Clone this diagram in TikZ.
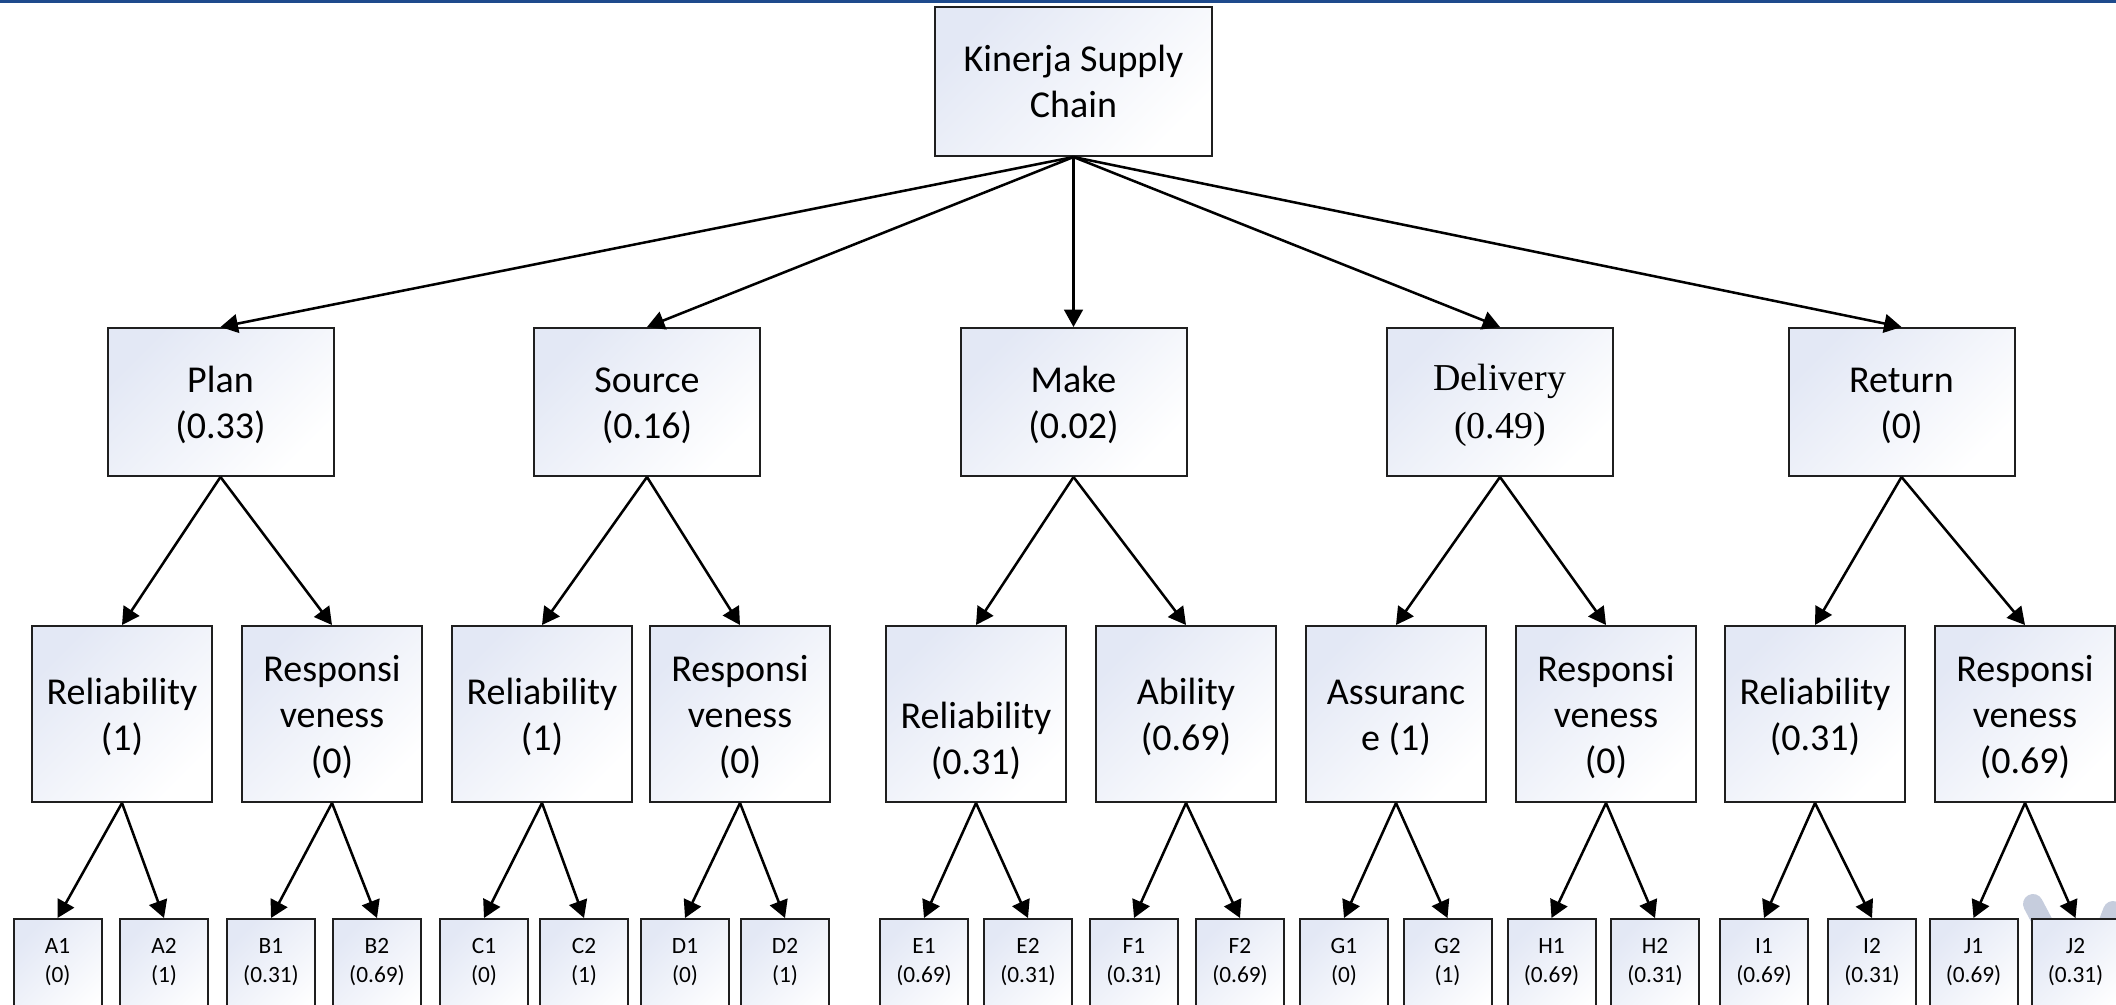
\documentclass[tikz,border=0pt]{standalone}
\usepackage{fontspec}
\setmainfont{Carlito}
\newfontfamily\serifdel{Liberation Serif}
\usetikzlibrary{arrows.meta}
\definecolor{barblue}{RGB}{30,74,140}
\definecolor{boxtint}{RGB}{227,232,245}
\definecolor{wmark}{RGB}{198,205,221}
\newcommand\tup{\rule{0pt}{24.5pt}}
\begin{document}
\begin{tikzpicture}[x=0.75pt,y=-0.75pt,
  box/.style={draw=black!88, line width=1.5pt, top color=boxtint, bottom color=white, shading angle=45, align=center, inner sep=0pt},
  big/.style={box, font=\fontsize{28.5pt}{34.5pt}\selectfont},
  rootbox/.style={big, minimum width=207.75pt, minimum height=111.75pt},
  lvtwo/.style={big, minimum width=169.5pt, minimum height=111pt},
  lvthree/.style={big, minimum width=135pt, minimum height=132pt},
  leafbox/.style={box, minimum width=66pt, minimum height=82.5pt, anchor=north},
  leaftext/.style={align=center, anchor=north, inner sep=0pt, font=\fontsize{17.5pt}{22pt}\selectfont},
  arr/.style={line width=1.9pt, draw=black, -{Triangle[length=13pt,width=14pt]}}
]
\useasboundingbox (0,0) rectangle (2116,1004);
\clip (0,0) rectangle (2116,1004);
\fill[barblue] (0,0) rectangle (2116,3);

% watermark fragment
\draw[wmark, line width=15pt, line cap=round] (2033,904) -- (2052,940);
\draw[wmark, line width=15pt, line cap=round] (2113,911) -- (2102,940);

% root
\node[rootbox] (root) at (1073.5,81.5) {Kinerja Supply\\Chain};

% level 2
\node[lvtwo] (p) at (220.5,402) {\tup Plan\\(0.33)};
\node[lvtwo] (s) at (647,402) {\tup Source\\(0.16)};
\node[lvtwo] (m) at (1073.5,402) {\tup Make\\(0.02)};
\node[lvtwo, font=\serifdel\fontsize{28.5pt}{36pt}\selectfont] (d) at (1500,402) {\tup Delivery\\(0.49)};
\node[lvtwo] (r) at (1901.5,402) {\tup Return\\(0)};

% level 3
\node[lvthree] (pRel) at (122,714) {\tup Reliability\\(1)};
\node[lvthree] (pResp) at (332,714) {\tup Responsi\\veness\\(0)};
\node[lvthree] (sRel) at (542,714) {\tup Reliability\\(1)};
\node[lvthree] (sResp) at (740,714) {\tup Responsi\\veness\\(0)};
\node[lvthree] (mRel) at (976,714) {\rule{0pt}{25pt}\\Reliability\\(0.31)};
\node[lvthree] (mAb) at (1186,714) {\tup Ability\\(0.69)};
\node[lvthree] (dAs) at (1396,714) {\tup Assuranc\\e (1)};
\node[lvthree] (dResp) at (1606,714) {\tup Responsi\\veness\\(0)};
\node[lvthree] (rRel) at (1815,714) {\tup Reliability\\(0.31)};
\node[lvthree] (rResp) at (2025,714) {\tup Responsi\\veness\\(0.69)};

% leaves
\foreach \n/\x/\v in {A1/57.5/0, A2/164/1, B1/271/0.31, B2/377/0.69,
  C1/484/0, C2/584/1, D1/685/0, D2/785/1, E1/924/0.69, E2/1028/0.31,
  F1/1134/0.31, F2/1240/0.69, G1/1344/0, G2/1447.5/1, H1/1551.5/0.69,
  H2/1655/0.31, I1/1764/0.69, I2/1872/0.31, J1/1973.5/0.69, J2/2075.5/0.31}{
  \node[leafbox] (\n) at (\x,918) {};
  \node[leaftext] (\n t) at (\x,938) {\n\\(\v)};
}

% connectors
\foreach \c in {p,s,m,d,r} \draw[arr] (root.south) -- (\c.north);
\foreach \a/\b in {p/pRel, p/pResp, s/sRel, s/sResp, m/mRel, m/mAb,
  d/dAs, d/dResp, r/rRel, r/rResp} \draw[arr] (\a.south) -- (\b.north);
\foreach \a/\b in {pRel/A1, pRel/A2, pResp/B1, pResp/B2, sRel/C1, sRel/C2,
  sResp/D1, sResp/D2, mRel/E1, mRel/E2, mAb/F1, mAb/F2, dAs/G1, dAs/G2,
  dResp/H1, dResp/H2, rRel/I1, rRel/I2, rResp/J1, rResp/J2}
  \draw[arr] (\a.south) -- (\b.north);
\end{tikzpicture}
\end{document}
